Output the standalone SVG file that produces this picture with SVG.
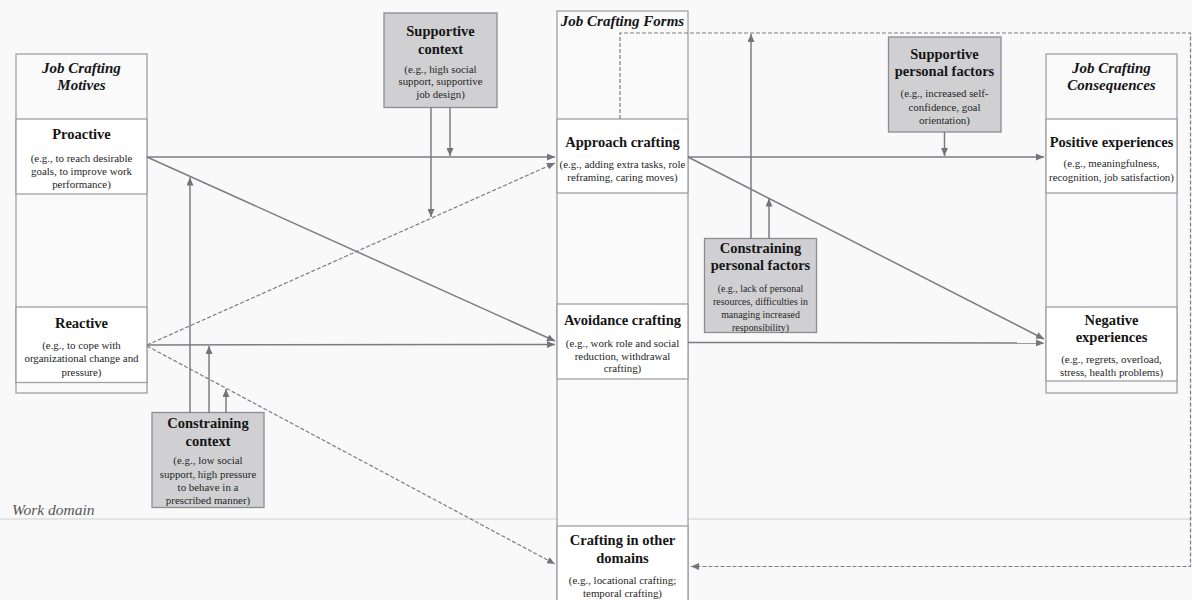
<svg xmlns="http://www.w3.org/2000/svg" width="1192" height="600" viewBox="0 0 1192 600">
  <style>
    .bg { fill: #f9f9fa; }
    .col { fill: #fafafb; stroke: #a0a0a6; stroke-width: 1.3; }
    .box { fill: #ffffff; stroke: #a0a0a6; stroke-width: 1.3; }
    .grey { fill: #d0d0d2; stroke: #8c8c92; stroke-width: 1.3; }
    .hdr { font-family: "Liberation Serif", "Times New Roman", serif; font-size: 15px; font-weight: bold; font-style: italic; fill: #151515; text-anchor: middle; }
    .ttl { font-family: "Liberation Serif", "Times New Roman", serif; font-size: 14.5px; font-weight: bold; fill: #151515; text-anchor: middle; }
    .sub { font-family: "Liberation Serif", "Times New Roman", serif; font-size: 10.9px; fill: #262626; text-anchor: middle; }
    .sub10 { font-family: "Liberation Serif", "Times New Roman", serif; font-size: 9.9px; fill: #262626; text-anchor: middle; }
    .domain { font-family: "Liberation Serif", "Times New Roman", serif; font-size: 15.5px; font-style: italic; fill: #555; }
    .ln { fill: none; stroke: #7c7c82; stroke-width: 1.5; }
    .dash { fill: none; stroke: #7c7c82; stroke-width: 1.2; stroke-dasharray: 4 2; }
  </style>
  <defs>
    <marker id="arr" markerUnits="userSpaceOnUse" markerWidth="8" markerHeight="7" refX="8" refY="3.5" orient="auto">
      <path d="M0,0 L8,3.5 L0,7 z" fill="#74747a"/>
    </marker>
  </defs>

  <rect class="bg" x="0" y="0" width="1192" height="600"/>

  <!-- work domain boundary -->
  <line x1="0" y1="519" x2="1192" y2="519" stroke="#dcdcde" stroke-width="1.6"/>
  <text class="domain" x="12" y="515">Work domain</text>

  <!-- Motives column -->
  <g id="motives">
    <rect class="col" x="16" y="54" width="131" height="339"/>
    <text class="hdr" x="81.5" y="73">Job Crafting</text>
    <text class="hdr" x="81.5" y="90">Motives</text>
  </g>
  <g id="proactive">
    <rect class="box" x="16" y="119" width="131" height="75"/>
    <text class="ttl" x="81.5" y="139">Proactive</text>
    <text class="sub" x="81.5" y="161.5">(e.g., to reach desirable</text>
    <text class="sub" x="81.5" y="174.5">goals, to improve work</text>
    <text class="sub" x="81.5" y="187.5">performance)</text>
  </g>
  <g id="reactive">
    <rect class="box" x="16" y="307" width="131" height="75.5"/>
    <text class="ttl" x="81.5" y="328">Reactive</text>
    <text class="sub" x="81.5" y="349">(e.g., to cope with</text>
    <text class="sub" x="81.5" y="362">organizational change and</text>
    <text class="sub" x="81.5" y="375.5">pressure)</text>
  </g>

  <!-- Forms column -->
  <g id="forms">
    <rect class="col" x="557" y="11" width="131" height="600"/>
    <text class="hdr" x="622.5" y="25.5">Job Crafting Forms</text>
  </g>
  <g id="approach">
    <rect class="box" x="557" y="119" width="131" height="74"/>
    <text class="ttl" x="622.5" y="146.5">Approach crafting</text>
    <text class="sub" x="622.5" y="168">(e.g., adding extra tasks, role</text>
    <text class="sub" x="622.5" y="180.5">reframing, caring moves)</text>
  </g>
  <g id="avoidance">
    <rect class="box" x="557" y="304" width="131" height="75"/>
    <text class="ttl" x="622.5" y="325">Avoidance crafting</text>
    <text class="sub" x="622.5" y="346.5">(e.g., work role and social</text>
    <text class="sub" x="622.5" y="360">reduction, withdrawal</text>
    <text class="sub" x="622.5" y="372">crafting)</text>
  </g>
  <g id="other-domains">
    <rect class="box" x="557" y="526" width="131" height="85"/>
    <text class="ttl" x="622.5" y="545">Crafting in other</text>
    <text class="ttl" x="622.5" y="562.5">domains</text>
    <text class="sub" x="622.5" y="584">(e.g., locational crafting;</text>
    <text class="sub" x="622.5" y="596.5">temporal crafting)</text>
  </g>

  <!-- Consequences column -->
  <g id="consequences">
    <rect class="col" x="1046" y="54" width="131" height="339"/>
    <text class="hdr" x="1111.5" y="72.5">Job Crafting</text>
    <text class="hdr" x="1111.5" y="90">Consequences</text>
  </g>
  <g id="positive">
    <rect class="box" x="1046" y="119" width="131" height="74"/>
    <text class="ttl" x="1111.5" y="146.5">Positive experiences</text>
    <text class="sub" x="1111.5" y="167">(e.g., meaningfulness,</text>
    <text class="sub" x="1111.5" y="180.5">recognition, job satisfaction)</text>
  </g>
  <g id="negative">
    <rect class="box" x="1046" y="307" width="131" height="74"/>
    <text class="ttl" x="1111.5" y="324.5">Negative</text>
    <text class="ttl" x="1111.5" y="341.5">experiences</text>
    <text class="sub" x="1111.5" y="363">(e.g., regrets, overload,</text>
    <text class="sub" x="1111.5" y="376">stress, health problems)</text>
  </g>

  <!-- Moderators -->
  <g id="supportive-context">
    <rect class="grey" x="384" y="13" width="113" height="94.5"/>
    <text class="ttl" x="440.5" y="36">Supportive</text>
    <text class="ttl" x="440.5" y="53.5">context</text>
    <text class="sub" x="440.5" y="72.5">(e.g., high social</text>
    <text class="sub" x="440.5" y="85">support, supportive</text>
    <text class="sub" x="440.5" y="98">job design)</text>
  </g>
  <g id="constraining-context">
    <rect class="grey" x="152" y="412.5" width="112" height="95"/>
    <text class="ttl" x="208" y="428">Constraining</text>
    <text class="ttl" x="208" y="446">context</text>
    <text class="sub" x="208" y="464">(e.g., low social</text>
    <text class="sub" x="208" y="477.5">support, high pressure</text>
    <text class="sub" x="208" y="491">to behave in a</text>
    <text class="sub" x="208" y="503.5">prescribed manner)</text>
  </g>
  <g id="supportive-personal">
    <rect class="grey" x="888.5" y="37" width="112.5" height="95"/>
    <text class="ttl" x="944.5" y="58.5">Supportive</text>
    <text class="ttl" x="944.5" y="76">personal factors</text>
    <text class="sub" x="944.5" y="97">(e.g., increased self-</text>
    <text class="sub" x="944.5" y="110.5">confidence, goal</text>
    <text class="sub" x="944.5" y="123.5">orientation)</text>
  </g>
  <g id="constraining-personal">
    <rect class="grey" x="704.5" y="238.5" width="112" height="94"/>
    <text class="ttl" x="760.5" y="252.5">Constraining</text>
    <text class="ttl" x="760.5" y="270">personal factors</text>
    <text class="sub10" x="760.5" y="291.5">(e.g., lack of personal</text>
    <text class="sub10" x="760.5" y="304.5">resources, difficulties in</text>
    <text class="sub10" x="760.5" y="317.5">managing increased</text>
    <text class="sub10" x="760.5" y="330.5">responsibility)</text>
  </g>

  <!-- Connectors -->
  <g id="connectors">
    <!-- motives to forms -->
    <line class="ln" x1="147" y1="157" x2="555" y2="157" marker-end="url(#arr)"/>
    <line class="ln" x1="147" y1="157" x2="555" y2="341" marker-end="url(#arr)"/>
    <line class="ln" x1="147" y1="345" x2="555" y2="344.5" marker-end="url(#arr)"/>
    <line class="dash" x1="147" y1="345" x2="555" y2="163" marker-end="url(#arr)"/>
    <line class="dash" x1="147" y1="346" x2="555" y2="564" marker-end="url(#arr)"/>

    <!-- forms to consequences -->
    <line class="ln" x1="688" y1="157" x2="1044" y2="157" marker-end="url(#arr)"/>
    <line class="ln" x1="688" y1="157" x2="1044" y2="339" marker-end="url(#arr)"/>
    <line class="ln" x1="688" y1="342.5" x2="1044" y2="343" marker-end="url(#arr)"/>

    <!-- spill-over loop to other domains -->
    <path class="dash" d="M620,119 V33 H1190.5 V566.5 H691" marker-end="url(#arr)"/>

    <!-- supportive context moderation -->
    <line class="ln" x1="431" y1="107.5" x2="431" y2="217" marker-end="url(#arr)"/>
    <line class="ln" x1="450" y1="107.5" x2="450" y2="156" marker-end="url(#arr)"/>

    <!-- constraining context moderation -->
    <line class="ln" x1="190" y1="412.5" x2="190" y2="177.5" marker-end="url(#arr)"/>
    <line class="ln" x1="209" y1="412.5" x2="209" y2="346" marker-end="url(#arr)"/>
    <line class="ln" x1="226" y1="412.5" x2="226" y2="389" marker-end="url(#arr)"/>

    <!-- supportive personal factors moderation -->
    <line class="ln" x1="944.5" y1="132" x2="944.5" y2="156" marker-end="url(#arr)"/>

    <!-- constraining personal factors moderation -->
    <line class="ln" x1="751" y1="238.5" x2="751" y2="34" marker-end="url(#arr)"/>
    <line class="ln" x1="769" y1="238.5" x2="769" y2="198.5" marker-end="url(#arr)"/>
  </g>
</svg>
